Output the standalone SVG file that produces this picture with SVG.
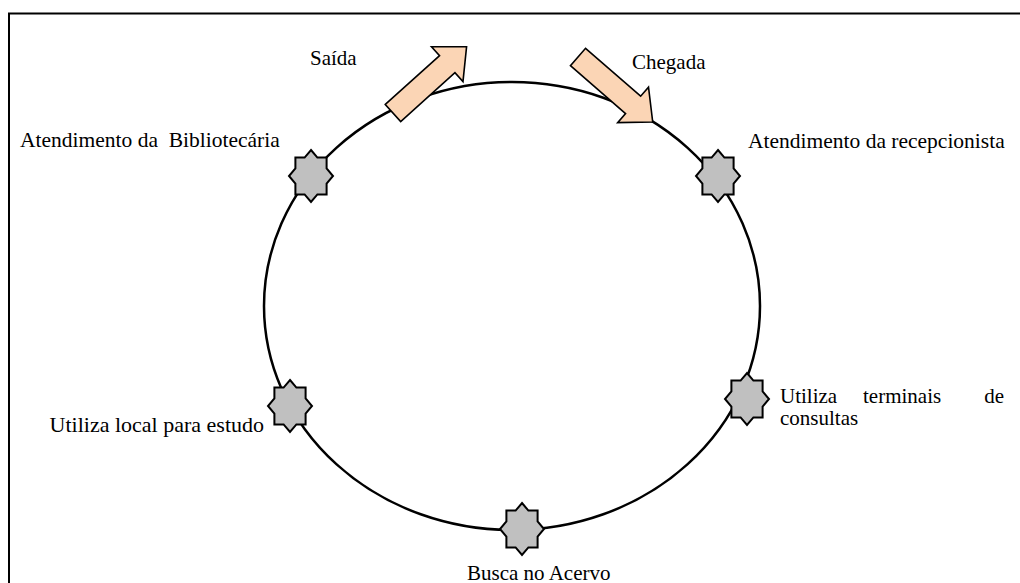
<svg xmlns="http://www.w3.org/2000/svg" xmlns:xlink="http://www.w3.org/1999/xlink" width="1020" height="583" viewBox="0 0 1020 583">
  <style>
    .frame { fill: #ffffff; stroke: #000000; stroke-width: 2; }
    .cycle { fill: none; stroke: #000000; stroke-width: 2.5; }
    .step { fill: #c0c0c0; stroke: #000000; stroke-width: 2; stroke-linejoin: miter; }
    .flow { fill: #fbd5b5; stroke: #000000; stroke-width: 1.6; stroke-linejoin: miter; }
    .lbl { font-family: "Liberation Serif", "Times New Roman", serif; font-size: 21px; fill: #000000; }
    .wide { font-size: 21.5px; }
  </style>
  <defs>
    <!-- eight-point star: union of a square and a diamond -->
    <polygon id="star" points="0,-26 6.4,-18.4 15.6,-18.4 15.6,-7.6 22,0 15.6,7.6 15.6,18.4 6.4,18.4 0,26 -6.4,18.4 -15.6,18.4 -15.6,7.6 -22,0 -15.6,-7.6 -15.6,-18.4 -6.4,-18.4"/>
    <!-- block arrow pointing along +x, tail at origin -->
    <polygon id="blockArrow" points="0,-11.5 73,-11.5 73,-23.5 99,0 73,23.5 73,11.5 0,11.5"/>
  </defs>

  <!-- outer frame (runs past the right and bottom edges) -->
  <rect class="frame" x="9" y="13.5" width="1030" height="600"/>

  <!-- service cycle -->
  <g id="connectors">
    <ellipse class="cycle" cx="512" cy="306" rx="248" ry="224"/>
  </g>

  <g id="saida">
    <use xlink:href="#blockArrow" class="flow" transform="translate(393,113) rotate(-42)"/>
    <text class="lbl" x="310" y="65">Saída</text>
  </g>

  <g id="chegada">
    <use xlink:href="#blockArrow" class="flow" transform="translate(578,57) rotate(41)"/>
    <text class="lbl" x="632" y="69">Chegada</text>
  </g>

  <g id="bibliotecaria">
    <use xlink:href="#star" class="step" x="311" y="176"/>
    <text class="lbl wide" x="20" y="147" xml:space="preserve">Atendimento da  Bibliotecária</text>
  </g>

  <g id="recepcionista">
    <use xlink:href="#star" class="step" x="718" y="176"/>
    <text class="lbl wide" x="748" y="148">Atendimento da recepcionista</text>
  </g>

  <g id="local-estudo">
    <use xlink:href="#star" class="step" x="290" y="406"/>
    <text class="lbl" x="264" y="432" text-anchor="end" style="font-size:22px">Utiliza local para estudo</text>
  </g>

  <g id="terminais">
    <use xlink:href="#star" class="step" x="747" y="399"/>
    <text class="lbl" x="780" y="403">Utiliza</text>
    <text class="lbl" x="863" y="403">terminais</text>
    <text class="lbl" x="1004" y="403" text-anchor="end">de</text>
    <text class="lbl" x="780" y="425">consultas</text>
  </g>

  <g id="acervo">
    <use xlink:href="#star" class="step" x="522" y="529"/>
    <text class="lbl" x="467" y="580">Busca no Acervo</text>
  </g>
</svg>
